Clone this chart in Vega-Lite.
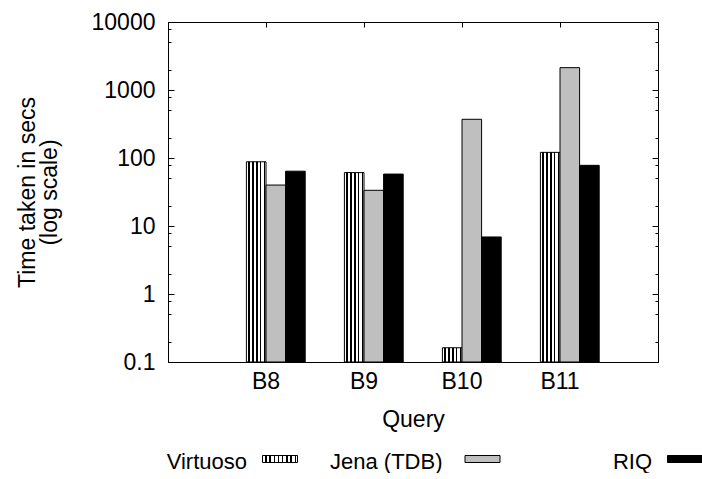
{
  "$schema": "https://vega.github.io/schema/vega-lite/v6.json",
  "padding": {"left": 15, "top": 10, "right": 0, "bottom": 0},
  "spacing": 17,
  "config": {
    "font": "Liberation Sans",
    "view": {"stroke": "black", "strokeWidth": 1},
    "axis": {
      "labelFont": "Liberation Sans", "titleFont": "Liberation Sans",
      "labelFontSize": 23, "titleFontSize": 23, "titleFontWeight": "normal",
      "labelColor": "black", "titleColor": "black",
      "domainColor": "black", "tickColor": "black", "grid": false
    }
  },
  "datasets": {
    "times": [
      {"query": "B8", "series": "Virtuoso", "time": 88},
      {"query": "B8", "series": "Jena (TDB)", "time": 40},
      {"query": "B8", "series": "RIQ", "time": 64},
      {"query": "B9", "series": "Virtuoso", "time": 61},
      {"query": "B9", "series": "Jena (TDB)", "time": 33.5},
      {"query": "B9", "series": "RIQ", "time": 58},
      {"query": "B10", "series": "Virtuoso", "time": 0.162},
      {"query": "B10", "series": "Jena (TDB)", "time": 371},
      {"query": "B10", "series": "RIQ", "time": 6.9},
      {"query": "B11", "series": "Virtuoso", "time": 121},
      {"query": "B11", "series": "Jena (TDB)", "time": 2130},
      {"query": "B11", "series": "RIQ", "time": 78}
    ],
    "series": [
      {"series": "Virtuoso"},
      {"series": "Jena (TDB)"},
      {"series": "RIQ"}
    ]
  },
  "vconcat": [
    {
      "width": 490,
      "height": 340,
      "data": {"name": "times"},
      "layer": [
        {
          "encoding": {
            "x": {
              "field": "query", "type": "nominal", "sort": ["B8", "B9", "B10", "B11"],
              "scale": {"domain": ["B8", "B9", "B10", "B11"], "paddingInner": 0, "paddingOuter": 0.5},
              "axis": {"title": "Query", "labelAngle": 0, "tickSize": -5, "labelPadding": 13, "titlePadding": 15}
            },
            "xOffset": {
              "field": "series", "type": "nominal",
              "scale": {"domain": ["Virtuoso", "Jena (TDB)", "RIQ"], "paddingInner": 0, "paddingOuter": 1, "align": 0.75}
            },
            "y": {
              "field": "time", "type": "quantitative",
              "scale": {"type": "log", "domain": [0.1, 10000]},
              "axis": {
                "title": ["Time taken in secs", "(log scale)"],
                "values": [0.1, 0.2, 0.5, 0.8, 1, 2, 5, 8, 10, 20, 50, 80, 100, 200, 500, 800, 1000, 2000, 5000, 8000, 10000],
                "format": "~g",
                "labelExpr": "(datum.value == 0.1 || datum.value == 1 || datum.value == 10 || datum.value == 100 || datum.value == 1000 || datum.value == 10000) ? datum.label : ''",
                "tickSize": {"condition": {"test": "datum.value == 0.1 || datum.value == 1 || datum.value == 10 || datum.value == 100 || datum.value == 1000 || datum.value == 10000", "value": -6}, "value": -3},
                "labelPadding": 19,
                "titlePadding": 30,
                "titleLineHeight": 22
              }
            },
            "y2": {"datum": 0.1}
          },
          "layer": [
            {
              "transform": [{"filter": "datum.series == 'Virtuoso'"}],
              "mark": {
                "type": "bar", "stroke": "black", "strokeWidth": 1,
                "fill": {"gradient": "linear", "x1": 0, "y1": 0, "x2": 1, "y2": 0, "stops": [
                  {"offset": 0, "color": "white"}, {"offset": 0.1, "color": "white"},
                  {"offset": 0.1, "color": "black"}, {"offset": 0.17, "color": "black"},
                  {"offset": 0.17, "color": "white"}, {"offset": 0.3, "color": "white"},
                  {"offset": 0.3, "color": "black"}, {"offset": 0.37, "color": "black"},
                  {"offset": 0.37, "color": "white"}, {"offset": 0.5, "color": "white"},
                  {"offset": 0.5, "color": "black"}, {"offset": 0.57, "color": "black"},
                  {"offset": 0.57, "color": "white"}, {"offset": 0.7, "color": "white"},
                  {"offset": 0.7, "color": "black"}, {"offset": 0.77, "color": "black"},
                  {"offset": 0.77, "color": "white"}, {"offset": 0.9, "color": "white"},
                  {"offset": 0.9, "color": "black"}, {"offset": 0.97, "color": "black"},
                  {"offset": 0.97, "color": "white"}, {"offset": 1, "color": "white"}
                ]}
              }
            },
            {
              "transform": [{"filter": "datum.series == 'Jena (TDB)'"}],
              "mark": {"type": "bar", "stroke": "black", "strokeWidth": 1, "fill": "#bfbfbf"}
            },
            {
              "transform": [{"filter": "datum.series == 'RIQ'"}],
              "mark": {"type": "bar", "stroke": "black", "strokeWidth": 1, "fill": "black"}
            }
          ]
        },
        {
          "mark": {"type": "bar", "opacity": 0},
          "encoding": {
            "x": {
              "field": "query", "type": "nominal",
              "axis": {"orient": "top", "labels": false, "title": null, "tickSize": -5}
            },
            "xOffset": {"field": "series", "type": "nominal"},
            "y": {
              "field": "time", "type": "quantitative",
              "axis": {
                "orient": "right", "labels": false, "title": null,
                "values": [0.1, 0.2, 0.5, 0.8, 1, 2, 5, 8, 10, 20, 50, 80, 100, 200, 500, 800, 1000, 2000, 5000, 8000, 10000],
                "tickSize": {"condition": {"test": "datum.value == 0.1 || datum.value == 1 || datum.value == 10 || datum.value == 100 || datum.value == 1000 || datum.value == 10000", "value": -6}, "value": -3}
              }
            }
          }
        }
      ],
      "resolve": {"axis": {"x": "independent", "y": "independent"}}
    },
    {
      "width": 534,
      "height": 20,
      "view": {"stroke": null},
      "data": {"name": "series"},
      "encoding": {
        "x": {
          "field": "series", "type": "nominal",
          "scale": {"type": "point", "domain": ["Virtuoso", "Jena (TDB)", "RIQ"], "range": [112, 517], "padding": 0},
          "axis": null
        }
      },
      "layer": [
        {
          "transform": [{"filter": "datum.series == 'Virtuoso'"}],
          "mark": {
            "type": "point", "shape": "M-1,-0.2H1V0.2H-1Z", "size": 1225, "filled": true, "opacity": 1, "stroke": "black", "strokeWidth": 1,
            "fill": {"gradient": "linear", "x1": 0, "y1": 0, "x2": 1, "y2": 0, "stops": [
              {"offset": 0, "color": "white"}, {"offset": 0.08, "color": "white"},
              {"offset": 0.08, "color": "black"}, {"offset": 0.12, "color": "black"},
              {"offset": 0.12, "color": "white"}, {"offset": 0.2, "color": "white"},
              {"offset": 0.2, "color": "black"}, {"offset": 0.24, "color": "black"},
              {"offset": 0.24, "color": "white"}, {"offset": 0.32, "color": "white"},
              {"offset": 0.32, "color": "black"}, {"offset": 0.36, "color": "black"},
              {"offset": 0.36, "color": "white"}, {"offset": 0.44, "color": "white"},
              {"offset": 0.44, "color": "black"}, {"offset": 0.48, "color": "black"},
              {"offset": 0.48, "color": "white"}, {"offset": 0.56, "color": "white"},
              {"offset": 0.56, "color": "black"}, {"offset": 0.6, "color": "black"},
              {"offset": 0.6, "color": "white"}, {"offset": 0.68, "color": "white"},
              {"offset": 0.68, "color": "black"}, {"offset": 0.72, "color": "black"},
              {"offset": 0.72, "color": "white"}, {"offset": 0.8, "color": "white"},
              {"offset": 0.8, "color": "black"}, {"offset": 0.84, "color": "black"},
              {"offset": 0.84, "color": "white"}, {"offset": 0.92, "color": "white"},
              {"offset": 0.92, "color": "black"}, {"offset": 0.96, "color": "black"},
              {"offset": 0.96, "color": "white"}, {"offset": 1, "color": "white"}
            ]}
          }
        },
        {
          "transform": [{"filter": "datum.series == 'Jena (TDB)'"}],
          "mark": {"type": "point", "shape": "M-1,-0.2H1V0.2H-1Z", "size": 1225, "filled": true, "opacity": 1, "stroke": "black", "strokeWidth": 1, "fill": "#bfbfbf"}
        },
        {
          "transform": [{"filter": "datum.series == 'RIQ'"}],
          "mark": {"type": "point", "shape": "M-1,-0.2H1V0.2H-1Z", "size": 1225, "filled": true, "opacity": 1, "stroke": "black", "strokeWidth": 1, "fill": "black"}
        },
        {
          "transform": [{"filter": "datum.series != 'Jena (TDB)'"}],
          "mark": {"type": "text", "align": "right", "dx": -33, "dy": 3, "fontSize": 22, "font": "Liberation Sans", "color": "black"},
          "encoding": {"text": {"field": "series"}}
        },
        {
          "transform": [{"filter": "datum.series == 'Jena (TDB)'"}],
          "mark": {"type": "text", "align": "right", "dx": -40, "dy": 3, "fontSize": 22, "font": "Liberation Sans", "color": "black"},
          "encoding": {"text": {"field": "series"}}
        }
      ]
    }
  ]
}
